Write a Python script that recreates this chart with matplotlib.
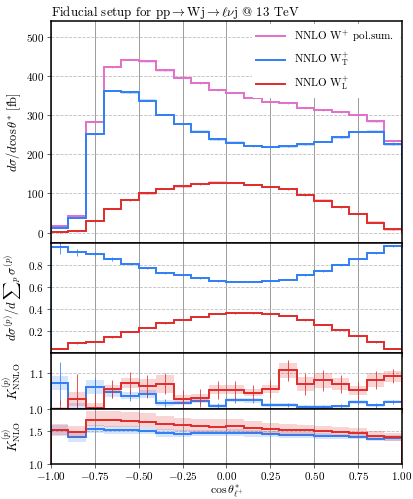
import numpy as np
import matplotlib.pyplot as plt

plt.rcParams['font.family'] = 'serif'
plt.rcParams['font.serif'] = ['cmr10']
plt.rcParams['mathtext.fontset'] = 'cm'
plt.rcParams['axes.formatter.use_mathtext'] = True
plt.rcParams['axes.linewidth'] = 1.1

edges = np.linspace(-1.0, 1.0, 21)
centres = 0.5 * (edges[1:] + edges[:-1])

# NNLO cos(theta*) distributions [fb]
xs_sum = [16, 42, 282, 422, 441, 437, 414, 394, 381, 364, 357, 343, 333, 330, 318, 313, 308, 300, 284, 234]
xs_T = [13, 38, 252, 362, 358, 337, 301, 277, 258, 238, 230, 221, 218, 220, 225, 232, 243, 257, 258, 225]
xs_L = [1, 4, 30, 61, 83, 100, 112, 118, 124, 128, 127, 122, 117, 111, 96, 82, 65, 47, 26, 8.5]

# polarisation fractions
frac_T = [0.960, 0.910, 0.897, 0.852, 0.809, 0.771, 0.728, 0.710, 0.680, 0.652, 0.646, 0.646, 0.652, 0.665, 0.707, 0.743, 0.797, 0.848, 0.903, 0.965]
frac_L = [0.043, 0.091, 0.106, 0.146, 0.194, 0.230, 0.269, 0.303, 0.330, 0.357, 0.363, 0.360, 0.351, 0.339, 0.297, 0.257, 0.212, 0.152, 0.103, 0.043]
frac_T_err = [0.06, 0.03, 0.02, 0.015, 0.01, 0.01, 0.008, 0.008, 0.006, 0.006, 0.006, 0.006, 0.006, 0.006, 0.006, 0.008, 0.008, 0.01, 0.01, 0.01]

# NNLO/NLO K-factors
knnlo_T = [1.072, 0.995, 1.061, 1.046, 1.036, 1.041, 1.016, 1.016, 1.022, 1.008, 1.025, 1.023, 1.011, 1.011, 1.005, 1.005, 1.007, 1.018, 1.009, 1.019]
knnlo_L = [0.985, 1.027, 1.002, 1.055, 1.072, 1.063, 1.070, 1.027, 1.030, 1.053, 1.053, 1.045, 1.055, 1.107, 1.069, 1.079, 1.069, 1.051, 1.081, 1.091]
knnlo_T_band = [0.02, 0.02, 0.02, 0.012, 0.01, 0.01, 0.008, 0.006, 0.006, 0.006, 0.006, 0.006, 0.005, 0.005, 0.004, 0.004, 0.004, 0.005, 0.004, 0.004]
knnlo_L_band = [0.02, 0.02, 0.015, 0.012, 0.015, 0.02, 0.025, 0.012, 0.01, 0.012, 0.012, 0.01, 0.012, 0.02, 0.02, 0.02, 0.018, 0.012, 0.02, 0.015]
knnlo_T_err = [0.06, 0.04, 0.025, 0.015, 0.015, 0.012, 0.01, 0.01, 0.008, 0.008, 0.008, 0.008, 0.006, 0.006, 0.006, 0.006, 0.006, 0.008, 0.006, 0.006]
knnlo_L_err = [0.04, 0.07, 0.04, 0.025, 0.03, 0.03, 0.03, 0.025, 0.025, 0.025, 0.025, 0.02, 0.025, 0.03, 0.03, 0.03, 0.025, 0.025, 0.025, 0.02]

# NLO/LO K-factors
knlo_T = [1.515, 1.41, 1.525, 1.52, 1.515, 1.505, 1.47, 1.46, 1.47, 1.47, 1.475, 1.465, 1.45, 1.445, 1.435, 1.43, 1.42, 1.415, 1.385, 1.395]
knlo_L = [1.52, 1.49, 1.67, 1.665, 1.655, 1.645, 1.605, 1.585, 1.57, 1.565, 1.57, 1.55, 1.53, 1.515, 1.51, 1.495, 1.48, 1.47, 1.43, 1.405]
knlo_T_band = [0.07, 0.07, 0.06, 0.06, 0.06, 0.055, 0.055, 0.05, 0.05, 0.05, 0.05, 0.05, 0.045, 0.045, 0.045, 0.045, 0.04, 0.04, 0.04, 0.04]
knlo_L_up = [0.09, 0.09, 0.14, 0.14, 0.135, 0.13, 0.125, 0.12, 0.115, 0.115, 0.11, 0.105, 0.10, 0.095, 0.09, 0.085, 0.08, 0.075, 0.07, 0.065]
knlo_L_dn = [0.09, 0.09, 0.10, 0.10, 0.095, 0.09, 0.09, 0.085, 0.085, 0.08, 0.08, 0.075, 0.07, 0.07, 0.065, 0.06, 0.06, 0.055, 0.05, 0.05]

c_sum = '#e36fc8'
c_T = '#2f7ff5'
c_L = '#e02b2b'


def hist(ax, vals, col, lo=None, hi=None, err=None, label=None, alpha=0.2):
    vals = np.asarray(vals)
    if lo is not None:
        ax.stairs(hi, edges, baseline=lo, fill=True, color=col, alpha=alpha, lw=0)
    ax.stairs(vals, edges, color=col, lw=1.4, label=label)
    if err is not None:
        ax.errorbar(centres, vals, yerr=err, fmt='none', ecolor=col, elinewidth=0.7, capsize=0, alpha=0.8)


fig, axs = plt.subplots(4, 1, sharex=True, figsize=(4.14, 4.99), dpi=100,
                        gridspec_kw=dict(height_ratios=[4, 2, 1, 1], hspace=0))
fig.subplots_adjust(left=0.123, right=0.971, top=0.958, bottom=0.07)

for ax in axs:
    ax.grid(axis='x', color='0.55', lw=0.6)
    ax.grid(axis='y', color='0.75', lw=0.6, ls='--')
    ax.set_axisbelow(True)
    ax.tick_params(labelsize=8, length=3, width=0.6, color='0.3', pad=2)

# cross sections
ax = axs[0]
for vals, col, lab in [(xs_sum, c_sum, r'NNLO W$^{+}$ pol.sum.'),
                       (xs_T, c_T, r'NNLO W$^{+}_{\rm T}$'),
                       (xs_L, c_L, r'NNLO W$^{+}_{\rm L}$')]:
    v = np.asarray(vals, float)
    hist(ax, v, col, lo=v - 3, hi=v + 3, err=[1.5] * 20, label=lab, alpha=0.25)
ax.set_ylim(-25, 540)
ax.set_yticks([0, 100, 200, 300, 400, 500])
ax.set_ylabel(r'$d\sigma/d\cos\theta^{*}$ [fb]', fontsize=9, labelpad=2)
ax.set_title(r'Fiducial setup for pp$\rightarrow$Wj$\rightarrow\ell\nu$j @ 13 TeV',
             loc='left', fontsize=9.3, pad=3)
leg = ax.legend(loc='upper right', fontsize=8, frameon=True, framealpha=1,
                edgecolor='none', handlelength=2.6, labelspacing=0.55, borderaxespad=0.3)

# fractions
ax = axs[1]
ft = np.asarray(frac_T)
fl = np.asarray(frac_L)
hist(ax, ft, c_T, lo=ft - 0.006, hi=ft + 0.006, err=frac_T_err)
hist(ax, fl, c_L, lo=fl - 0.006, hi=fl + 0.006, err=[0.006] * 20)
ax.set_ylim(0, 1.0)
ax.set_yticks([0.2, 0.4, 0.6, 0.8])
ax.set_ylabel(r'$d\sigma^{(p)}/d\,{\sum}_p\,\sigma^{(p)}$', fontsize=9, labelpad=2)

# NNLO K-factor
ax = axs[2]
kt = np.asarray(knnlo_T)
kl = np.asarray(knnlo_L)
hist(ax, kt, c_T, lo=kt - np.asarray(knnlo_T_band), hi=kt + np.asarray(knnlo_T_band), err=knnlo_T_err)
hist(ax, kl, c_L, lo=kl - np.asarray(knnlo_L_band), hi=kl + np.asarray(knnlo_L_band), err=knnlo_L_err)
ax.set_ylim(1.0, 1.155)
ax.set_yticks([1.0, 1.1])
ax.set_ylabel(r'$K^{(p)}_{\rm NNLO}$', fontsize=9, labelpad=2)

# NLO K-factor
ax = axs[3]
kt = np.asarray(knlo_T)
kl = np.asarray(knlo_L)
hist(ax, kt, c_T, lo=kt - np.asarray(knlo_T_band), hi=kt + np.asarray(knlo_T_band))
hist(ax, kl, c_L, lo=kl - np.asarray(knlo_L_dn), hi=kl + np.asarray(knlo_L_up))
ax.set_ylim(1.0, 1.84)
ax.set_yticks([1.0, 1.5])
ax.set_ylabel(r'$K^{(p)}_{\rm NLO}$', fontsize=9, labelpad=2)
ax.set_xlim(-1, 1)
ax.set_xticks(np.arange(-1.0, 1.01, 0.25))
ax.tick_params(axis='x', pad=1.5)
ax.set_xlabel(r'$\cos\theta^{*}_{\ell^{+}}$', fontsize=8.5, labelpad=0)

fig.align_ylabels(axs)
fig.savefig('out.png', dpi=100)
